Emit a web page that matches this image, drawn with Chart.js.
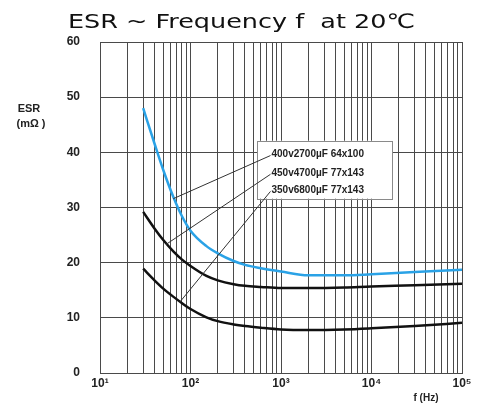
<!DOCTYPE html>
<html>
<head>
<meta charset="utf-8">
<script src="https://cdn.jsdelivr.net/npm/chart.js@4/dist/chart.umd.min.js"></script>
<style>
html,body{margin:0;padding:0;background:#fff;}
#wrap{width:483px;height:403px;position:relative;}
</style>
</head>
<body>
<div id="wrap"><canvas id="c" width="483" height="403"></canvas></div>
<script>
// ---- data ----
const frequencies = [30, 40, 50, 65, 80, 100, 150, 200, 300, 400, 600, 1000, 2000, 5000, 10000, 30000, 100000];
const esr400v2700 = [48, 41.6, 36.8, 31.8, 28.5, 25.8, 23.0, 21.7, 20.3, 19.6, 19.0, 18.4, 17.7, 17.7, 17.9, 18.3, 18.7];
const esr450v4700 = [29.2, 26.2, 24.1, 22.0, 20.6, 19.4, 17.6, 16.8, 16.1, 15.8, 15.6, 15.4, 15.4, 15.5, 15.7, 15.9, 16.2];
const esr350v6800 = [18.9, 16.8, 15.3, 13.8, 12.7, 11.6, 10.1, 9.4, 8.8, 8.5, 8.2, 7.9, 7.8, 7.9, 8.1, 8.5, 9.1];
const seriesLabels = ['400v2700\u00b5F 64x100', '450v4700\u00b5F 77x143', '350v6800\u00b5F 77x143'];
const xTickLabels = ['10\u00b9', '10\u00b2', '10\u00b3', '10\u2074', '10\u2075'];
const yTicks = [0, 10, 20, 30, 40, 50, 60];
// leader-line anchor points on each curve (frequency, ESR)
const leaderFreq = [64.6, 53.6, 76.6];
const leaderEsr = [31.6, 23.3, 12.9];

// ---- annotation placement (in data units) ----
const boxSpec = {fLeft: 543, fRight: 16900, vTop: 42.1, vBottom: 31.6, fText: 785, vRows: [39.6, 36.2, 33.1]};

const toPts = arr => frequencies.map((f, i) => ({x: f, y: arr[i]}));

const minorTicks = [];
for (let e = 1; e <= 4; e++) for (let s = 1; s <= 9; s++) minorTicks.push({value: s * Math.pow(10, e)});
minorTicks.push({value: 100000});

const annot = {
  id: 'annot',
  afterDatasetsDraw(chart) {
    const ctx = chart.ctx, xs = chart.scales.x, ys = chart.scales.y;
    const l = xs.getPixelForValue(boxSpec.fLeft), r = xs.getPixelForValue(boxSpec.fRight);
    const t = ys.getPixelForValue(boxSpec.vTop), b = ys.getPixelForValue(boxSpec.vBottom);
    ctx.save();
    ctx.fillStyle = '#fff';
    ctx.fillRect(l, t, r - l, b - t);
    ctx.strokeStyle = '#8a8a8a';
    ctx.lineWidth = 1;
    ctx.strokeRect(Math.round(l) + 0.5, Math.round(t) + 0.5, Math.round(r - l), Math.round(b - t));
    const tx = xs.getPixelForValue(boxSpec.fText);
    ctx.strokeStyle = '#333';
    ctx.lineWidth = 1;
    for (let i = 0; i < 3; i++) {
      const ty = ys.getPixelForValue(boxSpec.vRows[i]);
      ctx.beginPath();
      ctx.moveTo(tx - 1, ty + 1);
      ctx.lineTo(xs.getPixelForValue(leaderFreq[i]), ys.getPixelForValue(leaderEsr[i]));
      ctx.stroke();
    }
    ctx.fillStyle = '#222';
    ctx.font = 'bold 10px "Liberation Sans", Arial, sans-serif';
    ctx.textBaseline = 'middle';
    ctx.textAlign = 'left';
    for (let i = 0; i < 3; i++) {
      ctx.fillText(seriesLabels[i], tx, ys.getPixelForValue(boxSpec.vRows[i]));
    }
    ctx.restore();
  },
  afterDraw(chart) {
    const ctx = chart.ctx;
    ctx.save();
    // title
    const title = 'ESR ~ Frequency f  at 20\u2103';
    ctx.font = '20px "DejaVu Sans", sans-serif';
    ctx.fillStyle = '#111';
    ctx.textBaseline = 'alphabetic';
    ctx.textAlign = 'left';
    const w = ctx.measureText(title).width;
    const target = 347;
    ctx.translate(68, 28);
    ctx.scale(target / w, 1);
    ctx.fillText(title, 0, 0);
    ctx.restore();
    ctx.save();
    ctx.fillStyle = '#222';
    ctx.font = 'bold 11px "Liberation Sans", Arial, sans-serif';
    ctx.textAlign = 'center';
    ctx.textBaseline = 'middle';
    ctx.fillText('ESR', 29, 109);
    ctx.fillText('(m\u03a9 )', 31, 124);
    ctx.font = 'bold 10px "Liberation Sans", Arial, sans-serif';
    ctx.fillText('f (Hz)', 426, 398);
    ctx.restore();
  }
};

new Chart(document.getElementById('c'), {
  type: 'line',
  data: {
    datasets: [
      {label: seriesLabels[0], data: toPts(esr400v2700), borderColor: '#2aa2e6', borderWidth: 2.5},
      {label: seriesLabels[1], data: toPts(esr450v4700), borderColor: '#111', borderWidth: 2.5},
      {label: seriesLabels[2], data: toPts(esr350v6800), borderColor: '#111', borderWidth: 2.5}
    ]
  },
  options: {
    responsive: false,
    animation: false,
    layout: {padding: {left: 0, top: 42, right: 21, bottom: 0}},
    elements: {point: {radius: 0}, line: {cubicInterpolationMode: 'monotone', fill: false}},
    plugins: {legend: {display: false}, title: {display: false}, tooltip: {enabled: false}},
    scales: {
      x: {
        type: 'logarithmic', min: 10, max: 100000,
        afterBuildTicks(scale) { scale.ticks = minorTicks.map(t => ({value: t.value})); },
        afterFit(scale) { scale.height = 30; },
        ticks: {
          autoSkip: false, maxRotation: 0, minRotation: 0, padding: 3,
          color: '#222', font: {family: '"Liberation Sans", Arial, sans-serif', size: 12, weight: 'bold'},
          callback(value) {
            const e = Math.log10(value);
            if (Math.abs(e - Math.round(e)) < 1e-9) return xTickLabels[Math.round(e) - 1];
            return '';
          }
        },
        grid: {color: '#4a4a4a', lineWidth: 1, drawTicks: false},
        border: {color: '#4a4a4a', width: 1}
      },
      y: {
        min: 0, max: 60,
        afterBuildTicks(scale) { scale.ticks = yTicks.map(v => ({value: v})); },
        afterFit(scale) { scale.width = 100; },
        ticks: {
          padding: 20, color: '#222',
          font: {family: '"Liberation Sans", Arial, sans-serif', size: 12, weight: 'bold'}
        },
        grid: {color: '#4a4a4a', lineWidth: 1, drawTicks: false},
        border: {color: '#4a4a4a', width: 1}
      }
    }
  },
  plugins: [annot]
});
</script>
</body>
</html>
